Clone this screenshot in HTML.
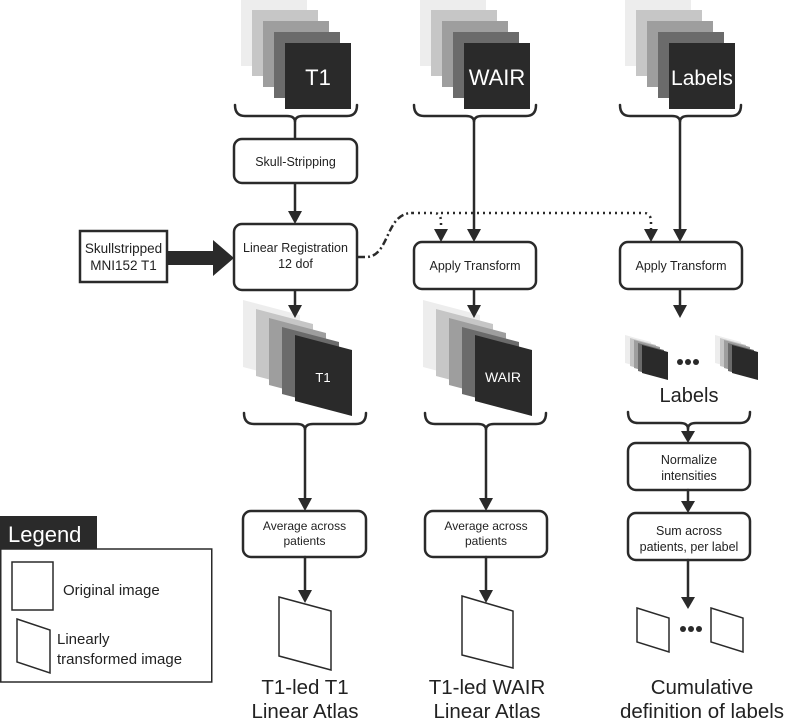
<!DOCTYPE html>
<html><head><meta charset="utf-8"><style>
html,body{margin:0;padding:0;background:#fff;}
svg{display:block;font-family:"Liberation Sans",sans-serif;}
</style></head><body>
<svg width="788" height="720" viewBox="0 0 788 720" xmlns="http://www.w3.org/2000/svg">
<defs>
<g id="stackT">
<rect x="-44" y="-43" width="66" height="66" fill="#ededed"/>
<rect x="-33" y="-33" width="66" height="66" fill="#c6c6c6"/>
<rect x="-22" y="-22" width="66" height="66" fill="#9e9e9e"/>
<rect x="-11" y="-11" width="66" height="66" fill="#6b6b6b"/>
<rect x="0" y="0" width="66" height="66" fill="#2a2a2a"/>
</g>
<g id="stackL">
<polygon points="-52,-35 5,-20 5,47 -52,32" fill="#ededed"/>
<polygon points="-39,-26 18,-11 18,56 -39,41" fill="#c6c6c6"/>
<polygon points="-26,-17 31,-2 31,65 -26,50" fill="#9e9e9e"/>
<polygon points="-13,-8 44,7 44,74 -13,59" fill="#6b6b6b"/>
<polygon points="0,0 57,15 57,81 0,66" fill="#2a2a2a"/>
</g>
<g id="stackS">
<polygon points="-17,-10 9,-3 9,25 -17,18" fill="#ededed"/>
<polygon points="-12,-7 14,0 14,28 -12,21" fill="#c6c6c6"/>
<polygon points="-8,-5 18,2 18,30 -8,23" fill="#9e9e9e"/>
<polygon points="-4,-2 22,5 22,33 -4,26" fill="#6b6b6b"/>
<polygon points="0,0 26,7 26,35 0,28" fill="#2a2a2a"/>
</g>
</defs>

<use href="#stackT" x="285" y="43"/>
<use href="#stackT" x="464" y="43"/>
<use href="#stackT" x="669" y="43"/>
<text x="318" y="85" fill="#fff" font-size="22" text-anchor="middle">T1</text>
<text x="497" y="85" fill="#fff" font-size="22" text-anchor="middle">WAIR</text>
<text x="702" y="85" fill="#fff" font-size="21" text-anchor="middle">Labels</text>

<!-- transformed stacks -->
<use href="#stackL" x="295" y="335"/>
<use href="#stackL" x="475" y="335"/>
<text x="323" y="382" fill="#fff" font-size="13" text-anchor="middle">T1</text>
<text x="503" y="382" fill="#fff" font-size="14" text-anchor="middle">WAIR</text>
<use href="#stackS" x="642" y="345"/>
<use href="#stackS" x="732" y="345"/>

<g stroke="#2a2a2a" stroke-width="2.5" fill="none" stroke-linecap="round">
<path d="M235 105 Q235 116 245 116 H287 Q295 116 295 122 Q295 116 303 116 H347 Q357 116 357 105"/>
<path d="M414 105 Q414 116 424 116 H466 Q474 116 474 122 Q474 116 482 116 H526 Q536 116 536 105"/>
<path d="M620 105 Q620 116 630 116 H672 Q680 116 680 122 Q680 116 688 116 H731 Q741 116 741 105"/>
<line x1="295" y1="122" x2="295" y2="139"/>
<line x1="295" y1="183" x2="295" y2="218"/>
<line x1="474" y1="122" x2="474" y2="236"/>
<line x1="680" y1="122" x2="680" y2="236"/>
<line x1="295" y1="290" x2="295" y2="312"/>
<line x1="474" y1="289" x2="474" y2="312"/>
<line x1="680" y1="289" x2="680" y2="312"/>
</g>
<g fill="#2a2a2a">
<polygon points="288,211 302,211 295,224"/>
<polygon points="467,229 481,229 474,242"/>
<polygon points="673,229 687,229 680,242"/>
<polygon points="434,229 448,229 441,242"/>
<polygon points="644,229 658,229 651,242"/>
<polygon points="288,305 302,305 295,318"/>
<polygon points="467,305 481,305 474,318"/>
<polygon points="673,305 687,305 680,318"/>
</g>

<g stroke="#2a2a2a" stroke-width="2.5" fill="none">
<path d="M358 257 H366 C390 257 385 213 412 213" stroke-dasharray="7,3,2,3"/>
<path d="M412 213 H434 Q441 213 441 222 V230" stroke-dasharray="2,4"/>
<path d="M441 213 H644 Q651 213 651 222 V230" stroke-dasharray="2,4"/>
</g>

<g stroke="#2a2a2a" stroke-width="2.5" fill="#fff">
<rect x="234" y="139" width="123" height="44" rx="8"/>
<rect x="234" y="224" width="123" height="66" rx="8"/>
<rect x="414" y="242" width="122" height="47" rx="8"/>
<rect x="620" y="242" width="122" height="47" rx="8"/>
<rect x="80" y="231" width="87" height="51" rx="0"/>
<rect x="243" y="511" width="123" height="46" rx="8"/>
<rect x="425" y="511" width="122" height="46" rx="8"/>
<rect x="628" y="443" width="122" height="47" rx="8"/>
<rect x="628" y="513" width="122" height="47" rx="8"/>
</g>
<polygon points="167,251 213,251 213,240 234,258 213,276 213,265 167,265" fill="#2a2a2a"/>

<g font-size="12.5" fill="#222" text-anchor="middle">
<text x="295.5" y="166">Skull-Stripping</text>
<text x="295.5" y="252">Linear Registration</text>
<text x="295.5" y="268">12 dof</text>
<text x="475" y="270">Apply Transform</text>
<text x="681" y="270">Apply Transform</text>
<text x="123.5" y="253" font-size="13.5">Skullstripped</text>
<text x="123.5" y="270" font-size="13.5">MNI152 T1</text>
<text x="304.5" y="530" font-size="12">Average across</text>
<text x="304.5" y="545" font-size="12">patients</text>
<text x="486" y="530" font-size="12">Average across</text>
<text x="486" y="545" font-size="12">patients</text>
<text x="689" y="464">Normalize</text>
<text x="689" y="480">intensities</text>
<text x="689" y="535">Sum across</text>
<text x="689" y="551">patients, per label</text>
</g>

<g fill="#2a2a2a"><circle cx="680" cy="362" r="3"/><circle cx="688" cy="362" r="3"/><circle cx="696" cy="362" r="3"/>
<circle cx="683" cy="629" r="3"/><circle cx="691" cy="629" r="3"/><circle cx="699" cy="629" r="3"/></g>
<text x="689" y="402" font-size="20" fill="#222" text-anchor="middle">Labels</text>

<g stroke="#2a2a2a" stroke-width="2.5" fill="none" stroke-linecap="round">
<path d="M244 413 Q244 424 254 424 H297 Q305 424 305 430 Q305 424 313 424 H356 Q366 424 366 413"/>
<path d="M425 413 Q425 424 435 424 H478 Q486 424 486 430 Q486 424 494 424 H536 Q546 424 546 413"/>
<path d="M628 412 Q628 423 638 423 H680 Q688 423 688 429 Q688 423 696 423 H740 Q750 423 750 412"/>
<line x1="305" y1="430" x2="305" y2="505"/>
<line x1="486" y1="430" x2="486" y2="505"/>
<line x1="688" y1="429" x2="688" y2="437"/>
<line x1="688" y1="490" x2="688" y2="507"/>
<line x1="305" y1="557" x2="305" y2="592"/>
<line x1="486" y1="557" x2="486" y2="592"/>
<line x1="688" y1="560" x2="688" y2="600"/>
</g>
<g fill="#2a2a2a">
<polygon points="298,498 312,498 305,511"/>
<polygon points="479,498 493,498 486,511"/>
<polygon points="681,431 695,431 688,443"/>
<polygon points="681,501 695,501 688,513"/>
<polygon points="298,590 312,590 305,603"/>
<polygon points="479,590 493,590 486,603"/>
<polygon points="681,597 695,597 688,609"/>
</g>

<g stroke="#2a2a2a" stroke-width="1.5" fill="#fff">
<polygon points="279,597 331,611 331,670 279,656"/>
<polygon points="462,596 513,611 513,668 462,655"/>
<polygon points="637,608 669,618 669,652 637,642"/>
<polygon points="711,608 743,618 743,652 711,642"/>
</g>

<g font-size="20.5" fill="#222" text-anchor="middle">
<text x="305" y="694">T1-led T1</text>
<text x="305" y="718">Linear Atlas</text>
<text x="487" y="694">T1-led WAIR</text>
<text x="487" y="718">Linear Atlas</text>
<text x="702" y="694">Cumulative</text>
<text x="702" y="718">definition of labels</text>
</g>

<rect x="0" y="516" width="97" height="33" fill="#2a2a2a"/>
<text x="8" y="542" font-size="22" fill="#fff">Legend</text>
<rect x="0.75" y="549" width="211" height="133" fill="none" stroke="#2a2a2a" stroke-width="1.5"/>
<rect x="12" y="562" width="41" height="48" fill="none" stroke="#2a2a2a" stroke-width="1.5"/>
<polygon points="17,619 50,630 50,673 17,662" fill="none" stroke="#2a2a2a" stroke-width="1.5"/>
<g font-size="15" fill="#222">
<text x="63" y="595">Original image</text>
<text x="57" y="644">Linearly</text>
<text x="57" y="664">transformed image</text>
</g>
</svg>
</body></html>
